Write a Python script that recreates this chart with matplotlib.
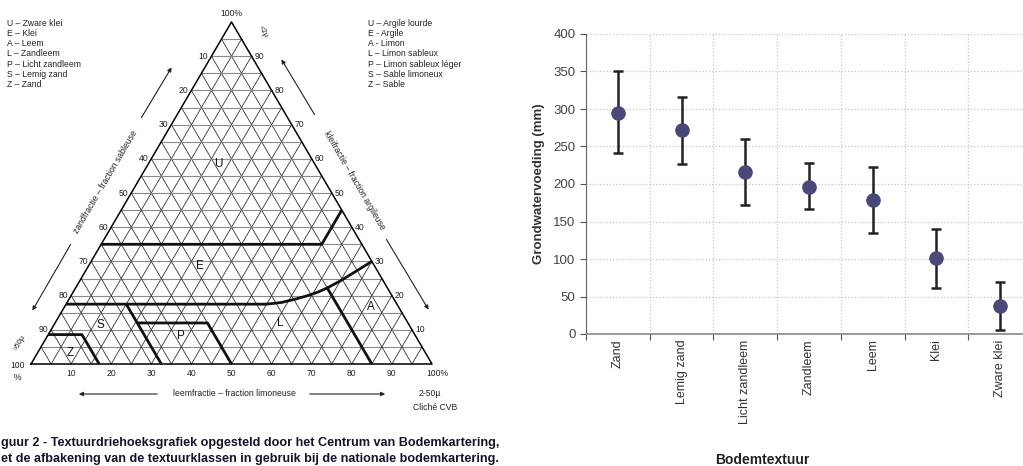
import numpy as np
import matplotlib
matplotlib.use('Agg')
import matplotlib.pyplot as plt

plt.rcParams['font.family'] = ['Liberation Sans', 'DejaVu Sans']

# --- right chart data: groundwater recharge per soil texture
categories = ['Zand', 'Lemig zand', 'Licht zandleem', 'Zandleem', 'Leem', 'Klei', 'Zware klei']
recharge = [294, 272, 216, 196, 179, 101, 37]
recharge_hi = [351, 316, 260, 228, 222, 140, 70]
recharge_lo = [241, 227, 172, 167, 135, 61, 5]
y_ticks = [0, 50, 100, 150, 200, 250, 300, 350, 400]

# --- texture triangle data (clay %, silt %)
tri_ticks = [10, 20, 30, 40, 50, 60, 70, 80, 90]
bnd_UE = [(35, 0), (35, 55), (45, 55)]
bnd_EL = [(17.5, 0), (17.5, 45), (17.5, 50), (18, 53.5), (19, 56.5), (20, 59),
          (21, 61), (22.2, 62.7), (24.3, 65), (26.9, 67.3), (30, 70)]
bnd_AL = [(0, 85), (22.5, 62.5)]
bnd_SL = [(0, 32.5), (17.5, 15)]
bnd_P = [(12, 20.5), (12, 38), (0, 50)]
bnd_Z = [(8.6, 0), (8.6, 8.4), (0, 17)]
class_letters = ['U', 'E', 'A', 'L', 'P', 'S', 'Z']
class_pos = [(58.5, 17.6), (28.7, 27.8), (16.7, 76.4), (12, 56.1), (8.2, 33.3), (11.4, 11.5), (3.2, 8.1)]
legend_nl = ['U – Zware klei', 'E – Klei', 'A – Leem', 'L – Zandleem', 'P – Licht zandleem',
             'S – Lemig zand', 'Z – Zand']
legend_fr = ['U – Argile lourde', 'E - Argile', 'A - Limon', 'L – Limon sableux',
             'P – Limon sableux léger', 'S – Sable limoneux', 'Z – Sable']

W, H = 1023, 466
fig = plt.figure(figsize=(W / 100, H / 100), dpi=100)

# overlay axes in pixel units for the triangle figure
ax_t = fig.add_axes([0, 0, 1, 1])
ax_t.set_xlim(0, W)
ax_t.set_ylim(H, 0)
ax_t.axis('off')

x0, base_y, sx, sy = 31, 364, 4.01, 3.42


def tern(clay, silt):
    X = silt + clay / 2.0
    return x0 + sx * X, base_y - sy * clay


def draw(pts, **kw):
    p = np.array([tern(c, s) for c, s in pts])
    ax_t.plot(p[:, 0], p[:, 1], **kw)


# grid, 5% steps
for k in range(5, 100, 5):
    draw([(k, 0), (k, 100 - k)], color='#8a8a8a', lw=0.8)
    draw([(0, k), (100 - k, k)], color='#333333', lw=0.6)
    draw([(0, 100 - k), (100 - k, 0)], color='#333333', lw=0.6)
draw([(0, 0), (100, 0), (0, 100), (0, 0)], color='black', lw=1.1)

for b in [bnd_UE, bnd_EL, bnd_AL, bnd_SL, bnd_P, bnd_Z]:
    draw(b, color='#111111', lw=2.0, solid_capstyle='butt')

for letter, (c, s) in zip(class_letters, class_pos):
    px, py = tern(c, s)
    ax_t.text(px, py, letter, fontsize=8.5, ha='center', va='center', color='#111111')

tfs = 6.2
tcol = '#222222'
for t in tri_ticks:
    px, py = tern(100 - t, 0)
    ax_t.text(px - 3, py, str(t), fontsize=tfs, ha='right', va='center', color=tcol)
    px, py = tern(t, 100 - t)
    ax_t.text(px + 3, py, str(t), fontsize=tfs, ha='left', va='center', color=tcol)
    px, py = tern(0, t)
    ax_t.text(px, py + 9, str(t), fontsize=tfs, ha='center', va='center', color=tcol)
ax_t.text(231, 13, '100%', fontsize=tfs, ha='center', va='center', color=tcol)
ax_t.text(437, 373, '100%', fontsize=tfs, ha='center', va='center', color=tcol)
ax_t.text(18, 365, '100', fontsize=tfs, ha='center', va='center', color=tcol)
ax_t.text(17, 377, '%', fontsize=tfs, ha='center', va='center', color=tcol)
ax_t.text(20, 343, '>50µ', fontsize=5.5, ha='center', va='center', rotation=60, color=tcol)
ax_t.text(263, 32, '<2µ', fontsize=5.5, ha='center', va='center', rotation=-60, color=tcol)
ax_t.text(430, 393, '2-50µ', fontsize=tfs, ha='center', va='center', color=tcol)
ax_t.text(435, 407, 'Cliché CVB', fontsize=tfs, ha='center', va='center', color=tcol)

# axis captions with arrows
arr = dict(arrowstyle='-|>', color='#222222', lw=0.8, mutation_scale=6)
ax_t.annotate('', xy=(173, 65), xytext=(140, 120), arrowprops=arr)
ax_t.annotate('', xy=(31, 313), xytext=(72, 242), arrowprops=arr)
ax_t.text(106, 182, 'zandfractie – fraction sableuse', fontsize=tfs, ha='center', va='center',
          rotation=59.7, color=tcol)
ax_t.annotate('', xy=(280, 57), xytext=(316, 117), arrowprops=arr)
ax_t.annotate('', xy=(430, 312), xytext=(385, 237), arrowprops=arr)
ax_t.text(354, 180, 'kleifractie – fraction argileuse', fontsize=tfs, ha='center', va='center',
          rotation=-59.7, color=tcol)
ax_t.annotate('', xy=(76, 394), xytext=(160, 394), arrowprops=arr)
ax_t.annotate('', xy=(388, 394), xytext=(307, 394), arrowprops=arr)
ax_t.text(234, 394, 'leemfractie – fraction limoneuse', fontsize=tfs, ha='center', va='center',
          color=tcol)

for i, (nl, fr) in enumerate(zip(legend_nl, legend_fr)):
    ax_t.text(7, 23 + 10.3 * i, nl, fontsize=tfs, ha='left', va='center', color=tcol)
    ax_t.text(368, 23 + 10.3 * i, fr, fontsize=tfs, ha='left', va='center', color=tcol)

ax_t.text(1, 443, 'guur 2 - Textuurdriehoeksgrafiek opgesteld door het Centrum van Bodemkartering,',
          fontsize=9.1, fontweight='bold', ha='left', va='center', color='#14142a')
ax_t.text(1, 459, 'et de afbakening van de textuurklassen in gebruik bij de nationale bodemkartering.',
          fontsize=9.1, fontweight='bold', ha='left', va='center', color='#14142a')

# --- right chart
ax = fig.add_axes([586 / W, 132 / H, 446 / W, 300 / H])
ax.set_facecolor('none')
x = np.arange(len(categories))
mean = np.array(recharge)
yerr = [mean - np.array(recharge_lo), np.array(recharge_hi) - mean]
ax.errorbar(x, mean, yerr=yerr, fmt='o', color='#4a4878', markersize=9.5,
            ecolor='#222222', elinewidth=1.8, capsize=3.5, capthick=1.8, zorder=3)

ax.set_xlim(-0.5, len(categories) - 0.5)
ax.set_ylim(0, 400)
ax.set_yticks(y_ticks)
ax.set_xticks(np.arange(len(categories) + 1) - 0.5)
ax.set_xticklabels([])
ax.set_xticks(x, minor=True)
ax.set_xticklabels(categories, minor=True, rotation=90, fontsize=9, color='#333333')
ax.tick_params(axis='x', which='minor', length=0, pad=4)
ax.tick_params(axis='x', which='major', length=4, color='#555555')
ax.tick_params(axis='y', labelsize=9.5, labelcolor='#444444', length=4, color='#555555')
ax.grid(True, which='major', color='#c4c4c4', linestyle=':', linewidth=0.9)
for side in ['top', 'right']:
    ax.spines[side].set_visible(False)
ax.spines['left'].set_color('#666666')
ax.spines['bottom'].set_color('#888888')
ax.spines['bottom'].set_linewidth(1.2)
ax.set_ylabel('Grondwatervoeding (mm)', fontsize=9.5, fontweight='bold', color='#333333', labelpad=6)
fig.text(762 / W, 1 - 460 / H, 'Bodemtextuur', fontsize=10, fontweight='bold', color='#222222',
         ha='center', va='center')

fig.savefig('out.png', dpi=100)
